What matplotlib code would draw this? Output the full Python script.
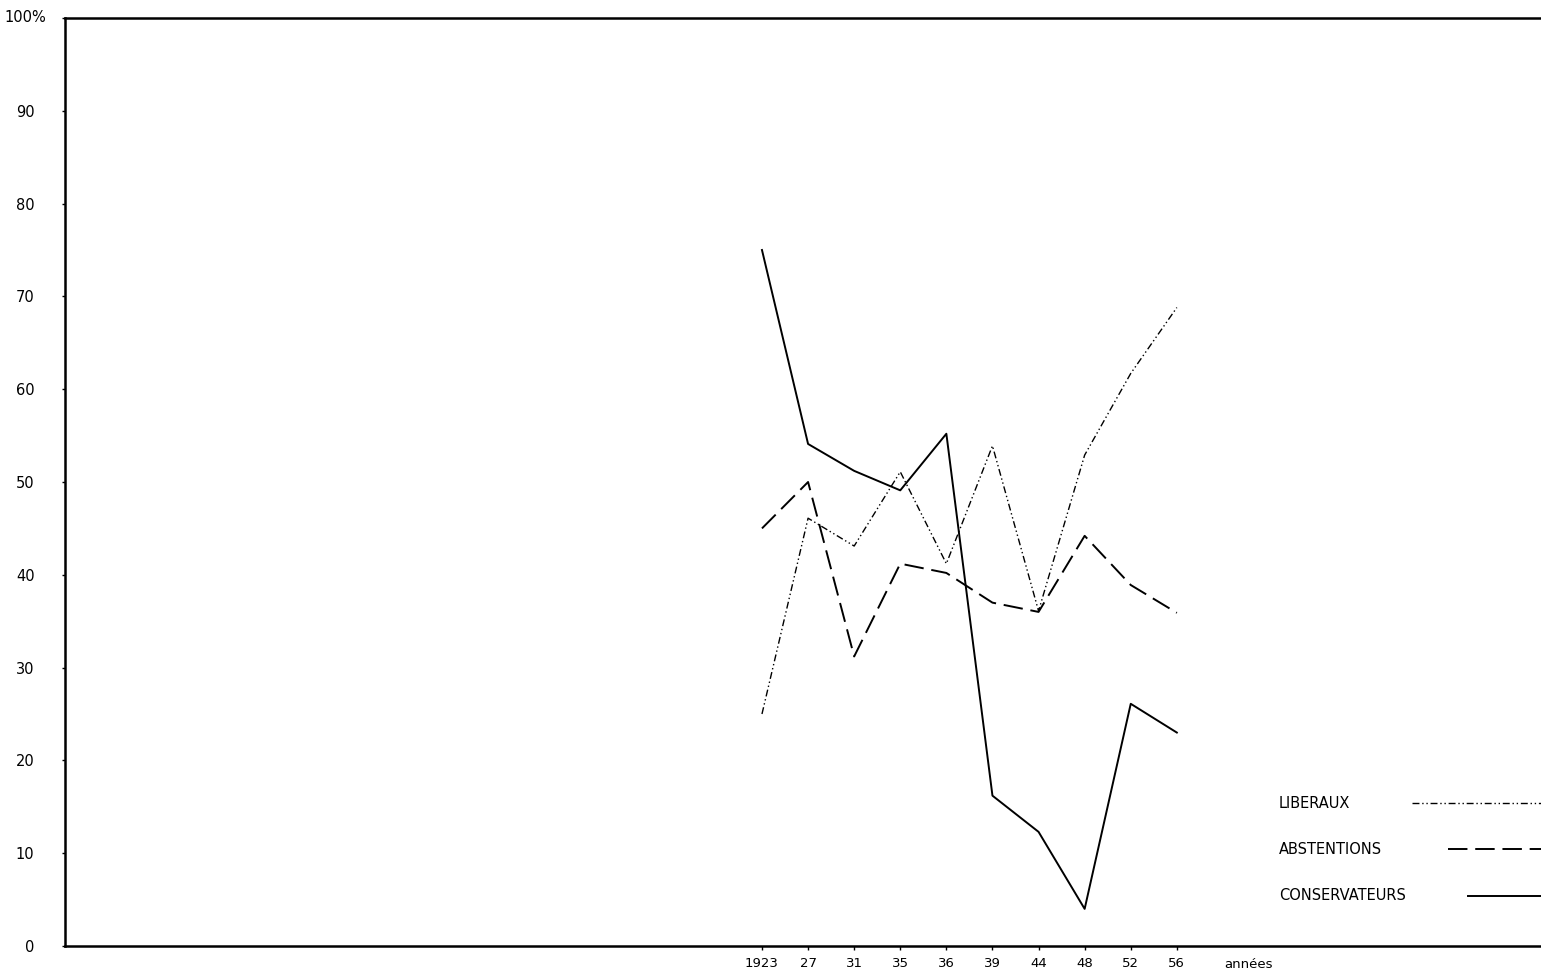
import matplotlib
matplotlib.use("Agg")
import matplotlib.pyplot as plt

# data
years = ["1923", "27", "31", "35", "36", "39", "44", "48", "52", "56"]
conservateurs = [75, 54.1, 51.2, 49.1, 55.2, 16.2, 12.3, 4, 26.1, 23]
abstentions = [45, 50, 31.2, 41.2, 40.2, 37, 36, 44.2, 38.9, 35.9]
liberaux = [25, 46.1, 43.1, 51.1, 41.2, 53.9, 36.1, 52.9, 61.7, 68.8]
yticks = [0, 10, 20, 30, 40, 50, 60, 70, 80, 90, 100]
ylabels = ["0", "10", "20", "30", "40", "50", "60", "70", "80", "90", ""]

fig = plt.figure(figsize=(15.41, 9.73), dpi=100)
ax = fig.add_axes([65 / 1541, 1 - 946 / 973, 1 - 65 / 1541, (946 - 18) / 973])

x = list(range(len(years)))
lw = 1.4
ax.plot(x, conservateurs, color="black", lw=lw)
ax.plot(x, abstentions, color="black", lw=lw, dashes=(10, 4))
ax.plot(x, liberaux, color="black", lw=1.0, dashes=(5, 2, 1, 2, 1, 2))

ax.set_xlim(-15.12, 16.9)
ax.set_ylim(0, 100)
ax.set_xticks(x)
ax.set_xticklabels(years, fontsize=9.5)
ax.set_yticks(yticks)
ax.set_yticklabels(ylabels, fontsize=10.5)
ax.tick_params(axis="x", length=3, width=1, pad=5)
ax.tick_params(axis="y", length=2, width=1, pad=20)
ax.text(10.55, -1.3, "années", fontsize=9.5, va="top", ha="center")
# top label sits at the corner, left of the axis
fig.text(4 / 1541, 1 - 18 / 973, "100%", fontsize=10.5, va="center", ha="left")

for side in ["left", "top", "bottom"]:
    ax.spines[side].set_linewidth(1.8)
ax.spines["right"].set_visible(False)

# legend drawn by hand
leg = [("LIBERAUX", 803, 1412, dict(lw=1.0, dashes=(5, 2, 1, 2, 1, 2))),
       ("ABSTENTIONS", 849, 1448, dict(lw=lw, dashes=(10, 4))),
       ("CONSERVATEURS", 896, 1468, dict(lw=lw))]
for name, ypx, x0, style in leg:
    yf = (946 - ypx) / (946 - 18)
    ax.text((1279 - 65) / (1541 - 65), yf, name, transform=ax.transAxes,
            fontsize=10.5, va="center", ha="left")
    ax.plot([(x0 - 65) / (1541 - 65), 1.0], [yf, yf], transform=ax.transAxes,
            color="black", clip_on=False, **style)

fig.savefig("out.png", dpi=100)
